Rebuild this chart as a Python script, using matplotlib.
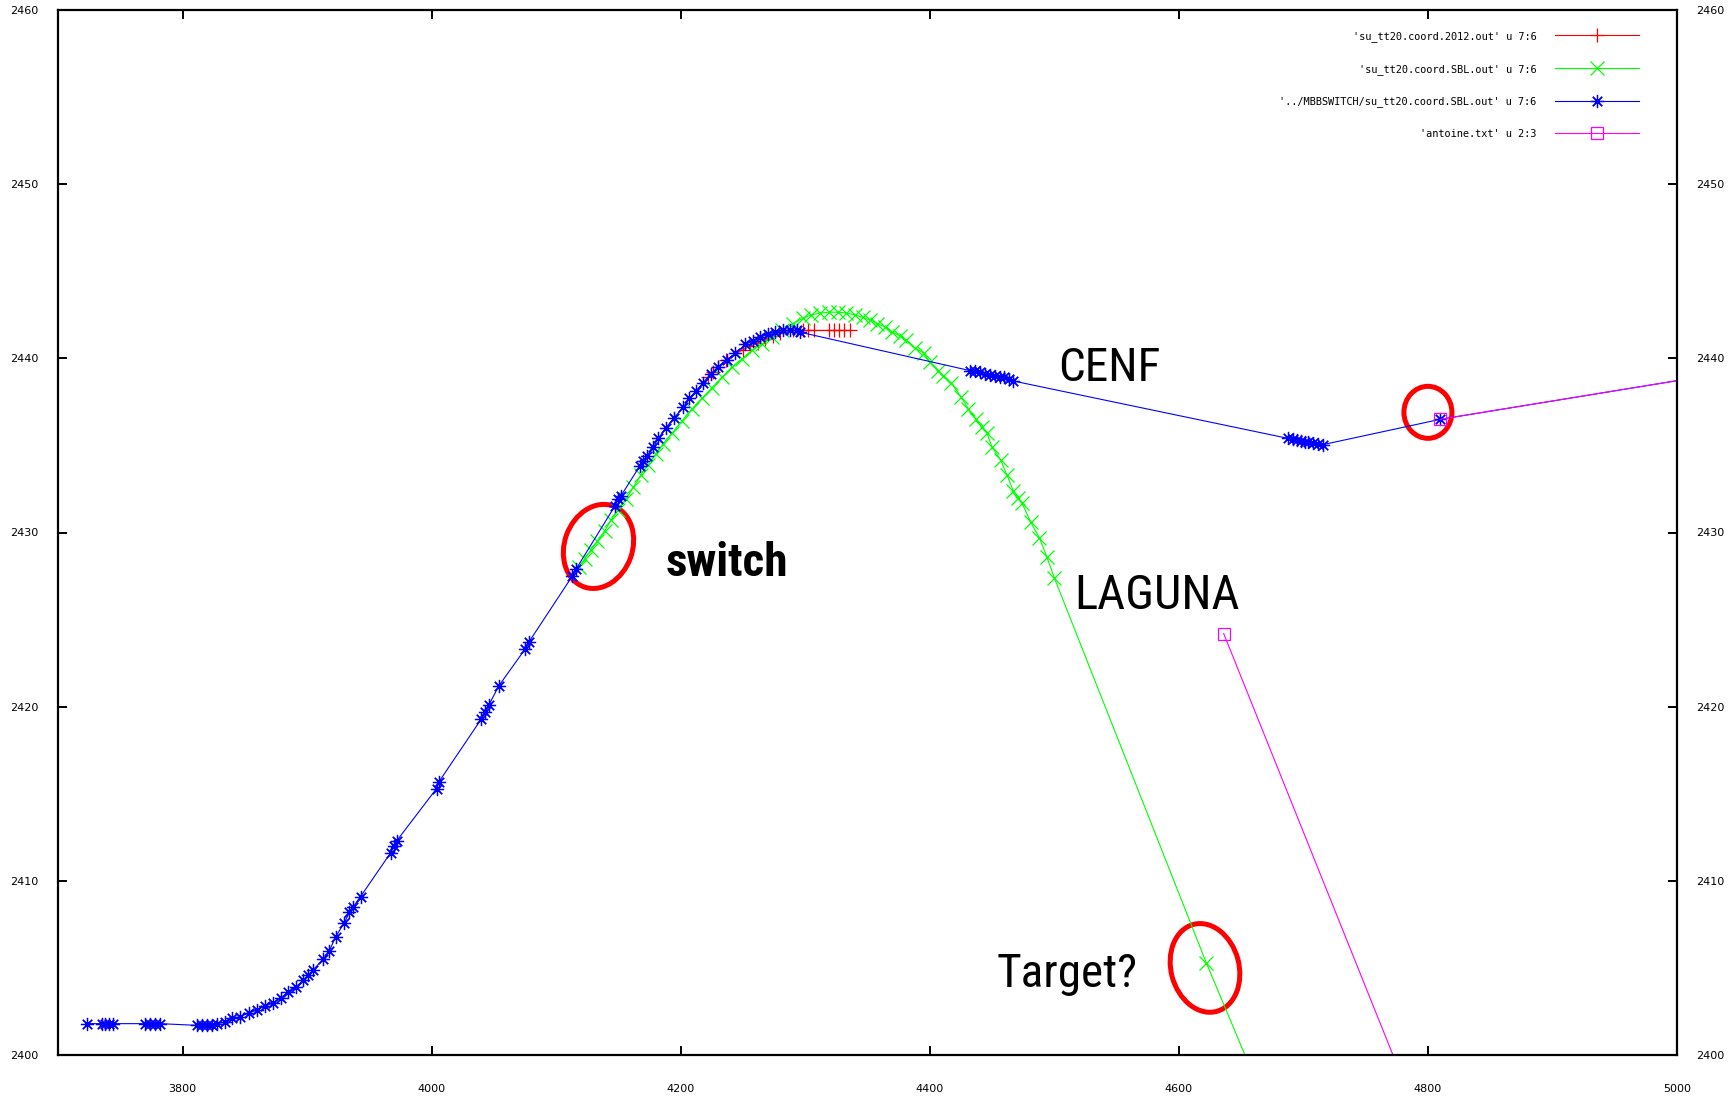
import matplotlib
matplotlib.use("Agg")
import numpy as np
import matplotlib.pyplot as plt
import matplotlib.transforms as mtransforms
from matplotlib.patches import Ellipse

# su_tt20.coord.2012.out (col 7 : col 6)
x_2012 = [4222, 4226, 4230, 4236, 4250, 4256, 4262, 4268, 4274, 4280, 4290,
          4298, 4302, 4307, 4319, 4323, 4327, 4331, 4336]
y_2012 = [2438.9, 2439.2, 2439.5, 2439.9, 2440.5, 2440.7, 2440.9, 2441.1, 2441.3,
          2441.45, 2441.6, 2441.6, 2441.6, 2441.6, 2441.6, 2441.6, 2441.6, 2441.6,
          2441.6]

# su_tt20.coord.SBL.out (col 7 : col 6)
x_sbl = [4118, 4123, 4128, 4133, 4139, 4144, 4150, 4156, 4162, 4168, 4174, 4180,
         4186, 4193, 4201, 4209, 4217, 4225, 4233, 4241, 4249, 4257, 4265, 4273,
         4281, 4290, 4298, 4305, 4312, 4319, 4326, 4333, 4340, 4346, 4352, 4358,
         4364, 4370, 4376, 4381, 4388, 4395, 4400, 4407, 4411, 4417, 4425, 4431,
         4437, 4442, 4446, 4450, 4457, 4462, 4467, 4471, 4474, 4481, 4488, 4494,
         4500, 4622, 4700]
y_sbl = [2428.0, 2428.5, 2429.0, 2429.5, 2430.1, 2430.7, 2431.3, 2431.9, 2432.6,
         2433.3, 2433.9, 2434.5, 2435.1, 2435.7, 2436.4, 2437.1, 2437.7, 2438.3,
         2438.9, 2439.5, 2439.95, 2440.45, 2440.8, 2441.2, 2441.6, 2442.0, 2442.3,
         2442.5, 2442.6, 2442.65, 2442.65, 2442.6, 2442.5, 2442.35, 2442.2, 2442.0,
         2441.8, 2441.5, 2441.3, 2441.05, 2440.6, 2440.3, 2439.8, 2439.3, 2439.0,
         2438.6, 2437.8, 2437.1, 2436.5, 2436.05, 2435.7, 2434.9, 2434.15, 2433.3,
         2432.4, 2432.0, 2431.7, 2430.6, 2429.7, 2428.6, 2427.4, 2405.3, 2392.0]

# ../MBBSWITCH/su_tt20.coord.SBL.out (col 7 : col 6)
x_switch = [3723, 3735, 3738, 3741, 3744, 3770, 3774, 3778, 3782, 3812, 3816, 3820,
            3824, 3828, 3834, 3840, 3846, 3853, 3860, 3866, 3873, 3879, 3885, 3891,
            3897, 3901, 3905, 3913, 3918, 3923, 3930, 3934, 3937, 3943, 3967, 3970,
            3972, 4004, 4006, 4040, 4043, 4046, 4054, 4075, 4078, 4113, 4116, 4147,
            4150, 4152, 4167, 4170, 4173, 4178, 4182, 4188, 4195, 4202, 4207, 4212,
            4218, 4224, 4230, 4237, 4244, 4252, 4258, 4264, 4270, 4276, 4282, 4288,
            4293, 4296, 4432, 4436, 4440, 4444, 4448, 4452, 4456, 4460, 4464, 4467,
            4688, 4692, 4695, 4698, 4701, 4704, 4708, 4712, 4716, 4810, 5050]
y_switch = [2401.8, 2401.8, 2401.8, 2401.8, 2401.8, 2401.8, 2401.8, 2401.8, 2401.8,
            2401.7, 2401.7, 2401.7, 2401.7, 2401.8, 2401.9, 2402.1, 2402.2, 2402.4,
            2402.6, 2402.8, 2403.0, 2403.3, 2403.6, 2403.9, 2404.3, 2404.6, 2404.9,
            2405.5, 2406.0, 2406.8, 2407.6, 2408.2, 2408.5, 2409.1, 2411.6, 2412.0,
            2412.3, 2415.3, 2415.7, 2419.3, 2419.7, 2420.1, 2421.2, 2423.3, 2423.7,
            2427.5, 2427.9, 2431.5, 2431.9, 2432.1, 2433.8, 2434.1, 2434.4, 2434.9,
            2435.4, 2436.0, 2436.6, 2437.2, 2437.7, 2438.1, 2438.6, 2439.1, 2439.5,
            2439.9, 2440.3, 2440.8, 2441.0, 2441.2, 2441.4, 2441.5, 2441.6, 2441.6,
            2441.6, 2441.5, 2439.3, 2439.25, 2439.2, 2439.1, 2439.05, 2439.0, 2438.95,
            2438.9, 2438.8, 2438.7, 2435.4, 2435.35, 2435.3, 2435.25, 2435.2, 2435.2,
            2435.15, 2435.1, 2435.05, 2436.5, 2439.3]

# antoine.txt (col 2 : col 3), two blocks separated by a blank line
x_antoine = [4636, 4800, np.nan, 4810, 5050]
y_antoine = [2424.2, 2395.0, np.nan, 2436.5, 2439.3]

x_ticks = [3800, 4000, 4200, 4400, 4600, 4800, 5000]
y_ticks = [2400, 2410, 2420, 2430, 2440, 2450, 2460]

labels = ["'su_tt20.coord.2012.out' u 7:6",
          "'su_tt20.coord.SBL.out' u 7:6",
          "'../MBBSWITCH/su_tt20.coord.SBL.out' u 7:6",
          "'antoine.txt' u 2:3"]

fig = plt.figure(figsize=(17.3, 10.97), dpi=100)
ax = fig.add_axes([58 / 1730, 42 / 1097, 1619 / 1730, 1045 / 1097])

lw = 0.8
ms = 9.5
mew = 0.9
ax.plot(x_2012, y_2012, color="#ff0000", lw=lw, marker="+", ms=ms, mew=mew, label=labels[0])
ax.plot(x_sbl, y_sbl, color="#00ff00", lw=lw, marker="x", ms=ms, mew=mew, label=labels[1])
ax.plot(x_switch, y_switch, color="#0000ff", lw=lw, marker=(8, 2, 0), ms=ms, mew=mew, label=labels[2])
ax.plot(x_antoine, y_antoine, color="#ff00ff", lw=lw, marker="s", ms=ms * 0.85, mew=mew,
        mfc="none", label=labels[3])

ax.set_xlim(3700, 5000)
ax.set_ylim(2400, 2460)
ax.set_xticks(x_ticks)
ax.set_yticks(y_ticks)
ax.tick_params(axis="both", direction="in", length=6.5, width=1.4, labelsize=8,
               top=True, right=True, labelright=True)
ax.tick_params(axis="x", pad=21)
ax.tick_params(axis="y", pad=14)
for side in ax.spines.values():
    side.set_linewidth(1.6)

leg = ax.legend(loc="upper right", bbox_to_anchor=(1639 / 1730, 1 - 31 / 1097),
                bbox_transform=fig.transFigure, frameon=False, markerfirst=False,
                numpoints=1, handlelength=8.2, handletextpad=1.75, labelspacing=2.12,
                borderpad=0, borderaxespad=0,
                prop={"family": "DejaVu Sans Mono", "size": 7.4})

# hand-written notes
note_font = ["Roboto Condensed", "Liberation Sans Narrow", "Roboto", "DejaVu Sans"]
ax.text(4503, 2438.7, "CENF", fontsize=34, family=note_font, ha="left", va="baseline")
ax.text(4516, 2425.6, "LAGUNA", fontsize=35, family=note_font, ha="left", va="baseline")
ax.text(4454, 2403.9, "Target?", fontsize=34, family=note_font, ha="left", va="baseline")
ax.text(4188, 2427.5, "switch", fontsize=34, family=note_font, weight="bold",
        ha="left", va="baseline")

# red circles: centre in data units, size in pixels
circles = [(4134.0, 2429.2, 68, 86, -20),
           (4800.0, 2436.9, 48, 52, 0),
           (4621.0, 2405.0, 68, 90, 15)]
for cx, cy, w, h, ang in circles:
    tr = fig.dpi_scale_trans + mtransforms.ScaledTranslation(cx, cy, ax.transData)
    ax.add_patch(Ellipse((0, 0), w / 100, h / 100, angle=ang, transform=tr,
                         fill=False, edgecolor="#ff0000", lw=3.6, clip_on=False))

fig.savefig("out.png", dpi=100)
